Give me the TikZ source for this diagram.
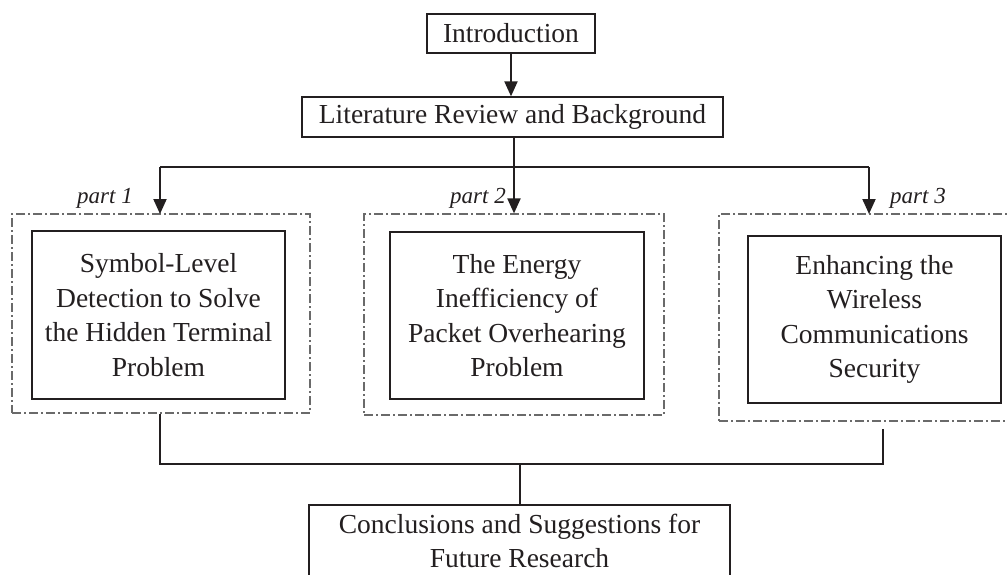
\documentclass[tikz,border=0pt]{standalone}
\usepackage{fontspec}
\setmainfont{Liberation Serif}
\usetikzlibrary{arrows.meta,calc}
\definecolor{ink}{HTML}{231F20}
\definecolor{dashc}{HTML}{6A6A6A}
\tikzset{
  solidbox/.style={draw=ink, line width=1.3pt, text=ink, align=center, inner sep=0pt,
    font=\fontsize{27.5}{34.5}\selectfont},
  partbox/.style={draw=dashc, line width=1.2pt, dash pattern=on 9pt off 3pt on 2pt off 3pt, inner sep=0pt},
  partlabel/.style={text=ink, font=\fontsize{23}{26}\selectfont\itshape, inner sep=0pt},
  conn/.style={draw=ink, line width=2pt},
  arr/.style={conn, -{Triangle[length=15pt,width=13pt]}},
}
\begin{document}
\begin{tikzpicture}[x=1pt,y=-1pt]
\clip (0,0) rectangle (1007,574);
\fill[white] (0,0) rectangle (1007,574);

\node[solidbox, minimum width=168pt, minimum height=39pt] (intro) at (511,33.5) {Introduction};
\node[solidbox, minimum width=421pt, minimum height=40pt] (lit) at (512.5,117) {Literature Review and Background};

\node[partbox, minimum width=298pt, minimum height=199pt] (outer1) at (161,313.5) {};
\node[partbox, minimum width=300pt, minimum height=201pt] (outer2) at (514,314.5) {};
\node[partbox, minimum width=293pt, minimum height=207pt] (outer3) at (865.5,317.5) {};

\node[solidbox, minimum width=253pt, minimum height=168pt] (inner1) at (158.5,315) {Symbol-Level\\Detection to Solve\\the Hidden Terminal\\Problem};
\node[solidbox, minimum width=254pt, minimum height=167pt] (inner2) at (517,315.5) {The Energy\\Inefficiency of\\Packet Overhearing\\Problem};
\node[solidbox, minimum width=253pt, minimum height=167pt] (inner3) at (874.5,319.5) {Enhancing the\\Wireless\\Communications\\Security};

\node[partlabel, anchor=base east] (p1) at (133,203) {part 1};
\node[partlabel, anchor=base east] (p2) at (506,203) {part 2};
\node[partlabel, anchor=base west] (p3) at (890,203) {part 3};

\node[solidbox, minimum width=421pt, minimum height=72pt] (concl) at (519.5,541) {Conclusions and Suggestions for\\Future Research};

% top connectors
\draw[arr] (intro.south) -- (intro.south |- lit.north);
\coordinate (j1) at (514,167);
\coordinate (a1) at (160,214);
\coordinate (a3) at (869,214);
\draw[conn] (j1 |- lit.south) -- (j1);
\draw[conn] (a1 |- j1) -- (a3 |- j1);
\draw[arr] (a1 |- j1) -- (a1);
\draw[arr] (j1) -- (outer2.north);
\draw[arr] (a3 |- j1) -- (a3);

% bottom connectors
\coordinate (b1) at (160,464);
\coordinate (b3) at (883,464);
\coordinate (t3) at (883,429);
\draw[conn] (outer1.south -| b1) -- (b1) -- (b3) -- (t3);
\draw[conn] (concl.north) -- (concl.north |- b1);
\end{tikzpicture}
\end{document}
